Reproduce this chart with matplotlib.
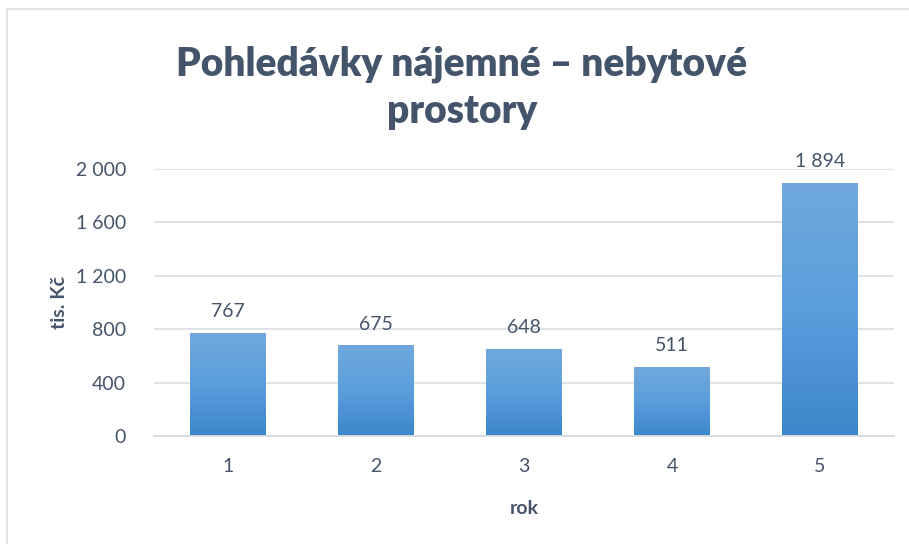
import numpy as np
import matplotlib
matplotlib.use("Agg")
import matplotlib.pyplot as plt
from matplotlib.patches import Rectangle
from matplotlib.colors import LinearSegmentedColormap

plt.rcParams['font.family'] = ['Lato', 'DejaVu Sans']

years = ['1', '2', '3', '4', '5']
values = [767, 675, 648, 511, 1894]
y_ticks = [0, 400, 800, 1200, 1600, 2000]

TEXT = '#44546A'
GRID = '#D9DDE3'


def fmt(v):
    # thousands separated by a space, Czech style
    return f"{v:,}".replace(",", " ")


fig = plt.figure(figsize=(9.09, 5.44), dpi=100)
fig.patches.append(Rectangle((7 / 909, -0.1), 1.2, 1 - 9 / 544 + 0.1,
                             transform=fig.transFigure, fill=False,
                             edgecolor=GRID, linewidth=1.2))

ax = fig.add_axes([154 / 909, 108 / 544, 740 / 909, 267 / 544])
x = np.arange(len(years))

# vertical gradient for the bars
grad_cmap = LinearSegmentedColormap.from_list('bar', ['#3E86CA', '#5A9EDD', '#70A8DC'])
grad = np.linspace(0, 1, 256).reshape(-1, 1)
width = 0.51
for xi, v in zip(x, values):
    ax.imshow(grad, cmap=grad_cmap, origin='lower', aspect='auto',
              extent=(xi - width / 2, xi + width / 2, 0, v), zorder=2)
    ax.text(xi, v + 100, fmt(v), ha='center', va='bottom', fontsize=14, color=TEXT)
ax.set_xlim(-0.5, len(years) - 0.5)
ax.set_ylim(0, 2000)

ax.set_yticks(y_ticks)
ax.set_yticklabels([fmt(t) for t in y_ticks])
ax.set_xticks(x)
ax.set_xticklabels(years)
ax.tick_params(axis='both', length=0, labelsize=14, labelcolor=TEXT)
ax.tick_params(axis='y', pad=20)
ax.tick_params(axis='x', pad=16)
ax.grid(axis='y', color=GRID, linewidth=1.2, zorder=0)
ax.set_axisbelow(True)
for side in ['top', 'right', 'left']:
    ax.spines[side].set_visible(False)
ax.spines['bottom'].set_color(GRID)
ax.spines['bottom'].set_linewidth(1.4)

ax.set_xlabel('rok', fontsize=14, fontweight='bold', color=TEXT, labelpad=18)
ax.set_ylabel('tis. Kč', fontsize=14, fontweight='bold', color=TEXT, labelpad=6)

fig.text(0.508, 1 - 88 / 544, 'Pohledávky nájemné – nebytové\nprostory',
         ha='center', va='center', fontsize=28, fontweight='heavy', color=TEXT,
         linespacing=1.35)

fig.savefig('out.png', dpi=100)
